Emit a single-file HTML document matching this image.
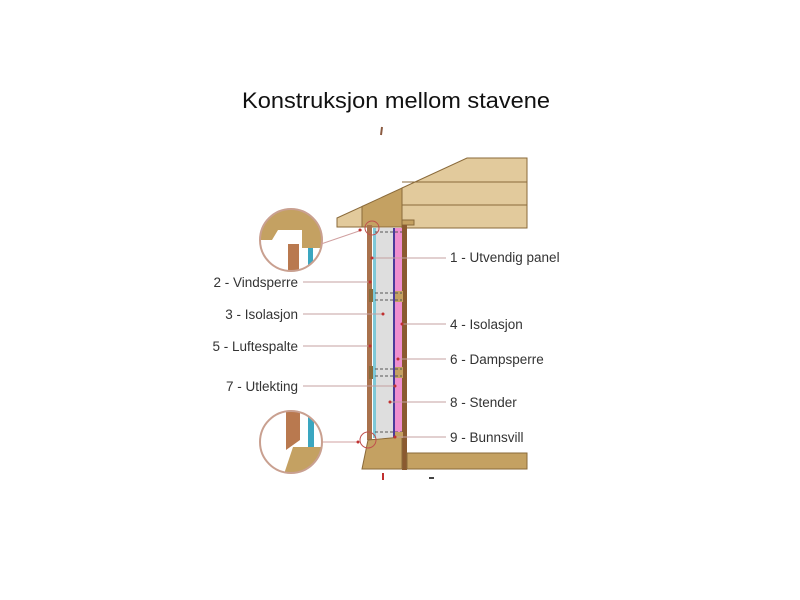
<!DOCTYPE html>
<html><head><meta charset="utf-8"><style>
html,body{margin:0;padding:0;background:#fff;}
svg{display:block;}
text{font-family:"Liberation Sans",Arial,sans-serif;}
</style></head><body>
<svg width="800" height="600" viewBox="0 0 800 600" xmlns="http://www.w3.org/2000/svg">
<rect width="800" height="600" fill="#fff"/>
<text x="242" y="108" font-size="22" textLength="308" lengthAdjust="spacingAndGlyphs" fill="#111">Konstruksjon mellom stavene</text>
<line x1="382" y1="127" x2="381" y2="135" stroke="#8a5a40" stroke-width="2"/>
<polygon points="402,188 467,158 527,158 527,228 402,228" fill="#e2ca9c" stroke="#8a6a3a"/>
<line x1="402" y1="182" x2="527" y2="182" stroke="#8a6a3a"/>
<line x1="402" y1="205" x2="527" y2="205" stroke="#8a6a3a"/>
<polygon points="337,218 362,206.5 362,227 337,227" fill="#e2ca9c" stroke="#8a6a3a"/>
<polygon points="362,206.5 402,188 402,227 362,227" fill="#c4a162" stroke="#8a6a3a"/>
<rect x="402" y="220" width="12" height="5" fill="#c4a162" stroke="#8a6a3a"/>
<rect x="367" y="225" width="5" height="215" fill="#a9714c"/>
<rect x="373" y="228" width="3" height="210" fill="#7ec9d8"/>
<rect x="376" y="228" width="18" height="210" fill="#dedede"/>
<rect x="393" y="228" width="2" height="210" fill="#4a3a9a"/>
<rect x="395" y="228" width="8" height="210" fill="#ef8fcf"/>
<rect x="402" y="225" width="5" height="245" fill="#8a5a30"/>
<rect x="395" y="291" width="8" height="11" fill="#c4a162"/>
<rect x="395" y="367" width="8" height="11" fill="#c4a162"/>
<rect x="369" y="289" width="4" height="13" fill="#8a6a3a"/>
<rect x="369" y="366" width="4" height="13" fill="#8a6a3a"/>
<g stroke="#555" stroke-width="1" stroke-dasharray="3,2">
<line x1="375" y1="293" x2="402" y2="293"/><line x1="375" y1="300" x2="402" y2="300"/>
<line x1="375" y1="369" x2="402" y2="369"/><line x1="375" y1="376" x2="402" y2="376"/>
<line x1="375" y1="232" x2="402" y2="232"/>
<line x1="375" y1="432" x2="402" y2="432"/>
</g>
<polygon points="362,469 368,440 402,437 402,469" fill="#c4a162" stroke="#8a6a3a"/>
<rect x="407" y="453" width="120" height="16" fill="#c4a162" stroke="#8a6a3a"/>
<rect x="395" y="432" width="8" height="6" fill="#c4a162"/>
<circle cx="372" cy="228" r="7" fill="none" stroke="#c0504d"/>
<circle cx="368" cy="440" r="8" fill="none" stroke="#c0504d"/>
<line x1="383" y1="473" x2="383" y2="480" stroke="#c03030" stroke-width="2"/>
<line x1="429" y1="478" x2="434" y2="478" stroke="#444" stroke-width="2"/>
<defs>
<clipPath id="c1"><circle cx="291" cy="240" r="31"/></clipPath>
<clipPath id="c2"><circle cx="291" cy="442" r="31"/></clipPath>
</defs>
<g clip-path="url(#c1)">
<rect x="255" y="205" width="75" height="75" fill="#fff"/>
<polygon points="255,205 330,205 330,248 302,248 302,230 278,230 272,240 255,240" fill="#c4a162"/>
<rect x="288" y="244" width="11" height="30" fill="#b9794f"/>
<rect x="308" y="248" width="5" height="30" fill="#3aa6c0"/>
</g>
<circle cx="291" cy="240" r="31" fill="none" stroke="#c9a090" stroke-width="2"/>
<line x1="321" y1="244" x2="362" y2="230" stroke="#d0a0a0"/>
<g clip-path="url(#c2)">
<rect x="255" y="405" width="75" height="75" fill="#fff"/>
<polygon points="286,412 300,412 300,440 286,450" fill="#b9794f"/>
<rect x="308" y="412" width="6" height="35" fill="#3aa6c0"/>
<polygon points="293,447 325,447 325,480 282,480" fill="#c4a162"/>
</g>
<circle cx="291" cy="442" r="31" fill="none" stroke="#c9a090" stroke-width="2"/>
<line x1="323" y1="442" x2="360" y2="442" stroke="#d0a0a0"/>
<g stroke="#c4a0a0" stroke-width="1">
<line x1="372" y1="258" x2="446" y2="258"/>
<line x1="402" y1="324" x2="446" y2="324"/>
<line x1="398" y1="359" x2="446" y2="359"/>
<line x1="390" y1="402" x2="446" y2="402"/>
<line x1="395" y1="437" x2="446" y2="437"/>
<line x1="303" y1="282" x2="370" y2="282"/>
<line x1="303" y1="314" x2="383" y2="314"/>
<line x1="303" y1="346" x2="370" y2="346"/>
<line x1="303" y1="386" x2="395" y2="386"/>
</g>
<g fill="#c03030">
<circle cx="372" cy="258" r="1.5"/><circle cx="402" cy="324" r="1.5"/><circle cx="398" cy="359" r="1.5"/>
<circle cx="390" cy="402" r="1.5"/><circle cx="395" cy="437" r="1.5"/><circle cx="370" cy="282" r="1.5"/>
<circle cx="383" cy="314" r="1.5"/><circle cx="370" cy="346" r="1.5"/><circle cx="395" cy="386" r="1.5"/>
<circle cx="358" cy="442" r="1.5"/><circle cx="360" cy="230" r="1.5"/>
</g>
<g font-size="13.5" fill="#333">
<text x="450" y="262">1 - Utvendig panel</text>
<text x="450" y="329">4 - Isolasjon</text>
<text x="450" y="364">6 - Dampsperre</text>
<text x="450" y="407">8 - Stender</text>
<text x="450" y="442">9 - Bunnsvill</text>
<text x="298" y="287" text-anchor="end">2 - Vindsperre</text>
<text x="298" y="319" text-anchor="end">3 - Isolasjon</text>
<text x="298" y="351" text-anchor="end">5 - Luftespalte</text>
<text x="298" y="391" text-anchor="end">7 - Utlekting</text>
</g>
</svg>
</body></html>
